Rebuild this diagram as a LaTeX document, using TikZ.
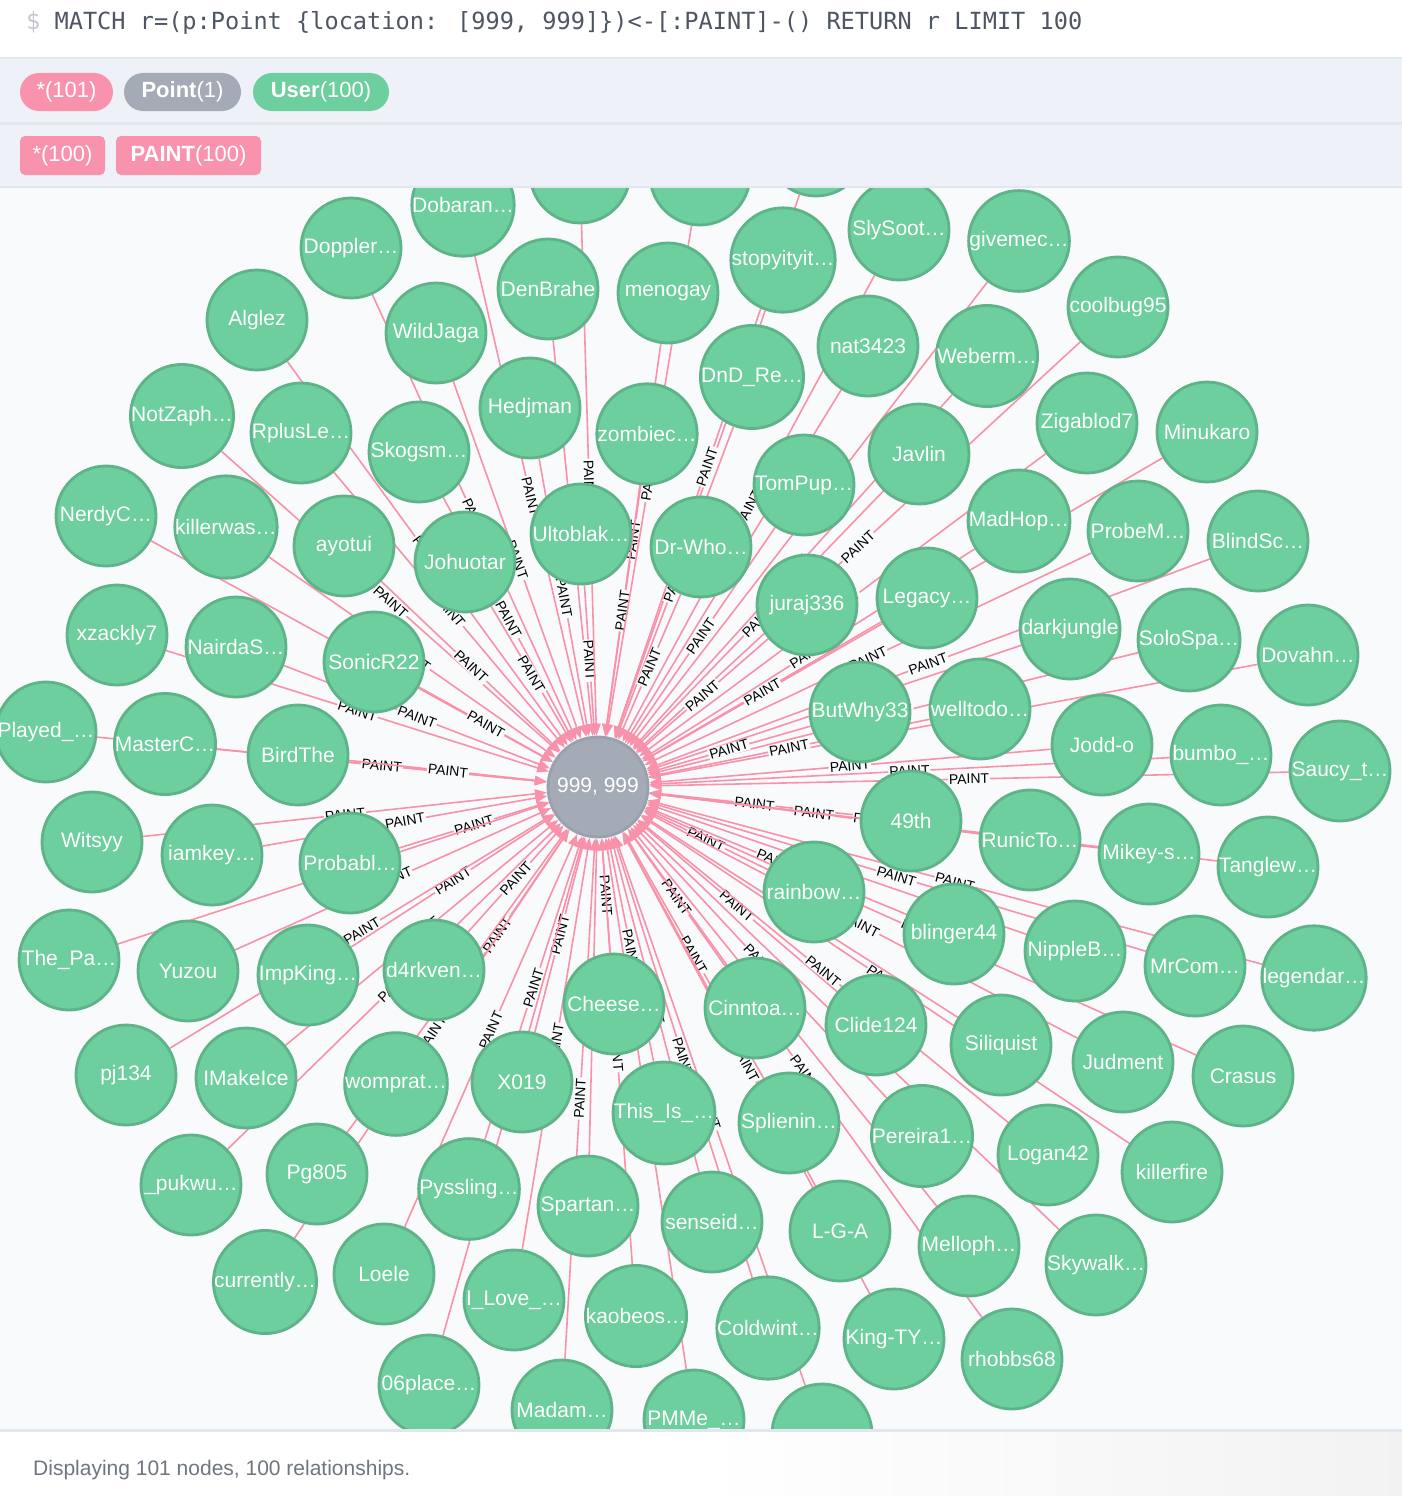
\documentclass[tikz,border=0pt]{standalone}
\usepackage{fontspec}
\newfontfamily\uifont{Liberation Sans}
\newfontfamily\codefont{DejaVu Sans Mono}
\usetikzlibrary{arrows.meta}
\definecolor{usergreen}{HTML}{6DCE9E}
\definecolor{usergreenline}{HTML}{5EB388}
\definecolor{pointgray}{HTML}{A5ABB6}
\definecolor{pointgrayline}{HTML}{9AA1AC}
\definecolor{relpink}{HTML}{F892AA}
\definecolor{pillpink}{HTML}{F993AD}
\definecolor{graphbg}{HTML}{F9FAFC}
\definecolor{barbg}{HTML}{EEF1F8}
\definecolor{barline}{HTML}{E2E6EE}
\definecolor{codegray}{HTML}{4F5663}
\definecolor{dollargray}{HTML}{C3C7CE}
\definecolor{footgray}{HTML}{6F7680}
\pgfdeclarelayer{canvas}
\pgfdeclarelayer{edges}
\pgfdeclarelayer{front}
\pgfsetlayers{canvas,edges,main,front}
\begin{document}
\begin{tikzpicture}[x=1pt, y=-1pt,
  user/.style={circle, draw=usergreenline, fill=usergreen, line width=2.8pt, minimum size=100pt, inner sep=0pt, text=white, font=\uifont\fontsize{21}{24}\selectfont},
  point/.style={circle, draw=pointgrayline, fill=pointgray, line width=2.8pt, minimum size=100pt, inner sep=0pt, text=white, font=\uifont\fontsize{21}{24}\selectfont},
  rel/.style={draw=relpink, line width=1.6pt, -{Triangle[length=12pt,width=9pt]}},
  lbl/.style={midway, sloped, fill=graphbg, inner sep=1pt, text=black, font=\uifont\fontsize{14}{16}\selectfont},
  pill/.style={rounded corners=19pt, minimum height=38pt, inner xsep=0pt, text=white, font=\uifont\fontsize{22}{26}\selectfont},
  tag/.style={pill, rounded corners=5pt, minimum height=39pt}]
\useasboundingbox (0,0) rectangle (1402,1496);
\begin{pgfonlayer}{canvas}
\fill[graphbg] (0,187) rectangle (1402,1430);
\end{pgfonlayer}
% the point
\node[point] (p) at (598,787){999, 999};
% users
\node[user] (u0) at (463,205){Dobaran…};
\node[user] (u1) at (351,248){Doppler…};
\node[user] (u2) at (548,289){DenBrahe};
\node[user] (u3) at (668,293){menogay};
\node[user] (u4) at (783,260){stopyityit…};
\node[user] (u5) at (899,230){SlySoot…};
\node[user] (u6) at (1019,241){givemec…};
\node[user] (u7) at (1118,307){coolbug95};
\node[user] (u8) at (257,320){Alglez};
\node[user] (u9) at (436,333){WildJaga};
\node[user] (u10) at (868,346){nat3423};
\node[user] (u11) at (987,356){Weberm…};
\node[user] (u12) at (752,377){DnD\_Re…};
\node[user] (u13) at (530,408){Hedjman};
\node[user] (u14) at (647,434){zombiec…};
\node[user] (u15) at (182,416){NotZaph…};
\node[user] (u16) at (301,433){RplusLe…};
\node[user] (u17) at (419,452){Skogsm…};
\node[user] (u18) at (919,454){Javlin};
\node[user] (u19) at (1087,423){Zigablod7};
\node[user] (u20) at (1207,432){Minukaro};
\node[user] (u21) at (804,485){TomPup…};
\node[user] (u22) at (106,516){NerdyC…};
\node[user] (u23) at (226,527){killerwas…};
\node[user] (u24) at (344,546){ayotui};
\node[user] (u25) at (465,562){Johuotar};
\node[user] (u26) at (581,534){Ultoblak…};
\node[user] (u27) at (701,547){Dr-Who…};
\node[user] (u28) at (1019,521){MadHop…};
\node[user] (u29) at (1138,531){ProbeM…};
\node[user] (u30) at (1258,541){BlindSc…};
\node[user] (u31) at (807,605){juraj336};
\node[user] (u32) at (927,598){Legacy…};
\node[user] (u33) at (117,635){xzackly7};
\node[user] (u34) at (236,647){NairdaS…};
\node[user] (u35) at (374,662){SonicR22};
\node[user] (u36) at (1070,629){darkjungle};
\node[user] (u37) at (1189,640){SoloSpa…};
\node[user] (u38) at (1308,655){Dovahn…};
\node[user] (u39) at (46,732){Played\_…};
\node[user] (u40) at (165,744){MasterC…};
\node[user] (u41) at (298,755){BirdThe};
\node[user] (u42) at (860,712){ButWhy33};
\node[user] (u43) at (980,709){welltodo…};
\node[user] (u44) at (1102,745){Jodd-o};
\node[user] (u45) at (1221,755){bumbo\_…};
\node[user] (u46) at (1340,771){Saucy\_t…};
\node[user] (u47) at (92,842){Witsyy};
\node[user] (u48) at (212,855){iamkey…};
\node[user] (u49) at (350,863){Probabl…};
\node[user] (u50) at (911,821){49th};
\node[user] (u51) at (1030,840){RunicTo…};
\node[user] (u52) at (1149,854){Mikey-s…};
\node[user] (u53) at (1268,867){Tanglew…};
\node[user] (u54) at (814,892){rainbow…};
\node[user] (u55) at (954,934){blinger44};
\node[user] (u56) at (1075,951){NippleB…};
\node[user] (u57) at (1195,966){MrCom…};
\node[user] (u58) at (1314,978){legendar…};
\node[user] (u59) at (69,960){The\_Pa…};
\node[user] (u60) at (188,971){Yuzou};
\node[user] (u61) at (308,975){ImpKing…};
\node[user] (u62) at (434,970){d4rkven…};
\node[user] (u63) at (614,1004){Cheese…};
\node[user] (u64) at (755,1008){Cinntoa…};
\node[user] (u65) at (876,1025){Clide124};
\node[user] (u66) at (1001,1045){Siliquist};
\node[user] (u67) at (1123,1062){Judment};
\node[user] (u68) at (1243,1076){Crasus};
\node[user] (u69) at (126,1075){pj134};
\node[user] (u70) at (246,1078){IMakeIce};
\node[user] (u71) at (396,1084){womprat…};
\node[user] (u72) at (522,1082){X019};
\node[user] (u73) at (664,1113){This\_Is\_…};
\node[user] (u74) at (789,1123){Splienin…};
\node[user] (u75) at (922,1136){Pereira1…};
\node[user] (u76) at (1048,1155){Logan42};
\node[user] (u77) at (1172,1172){killerfire};
\node[user] (u78) at (191,1185){\_pukwu…};
\node[user] (u79) at (317,1174){Pg805};
\node[user] (u80) at (469,1189){Pyssling…};
\node[user] (u81) at (588,1206){Spartan…};
\node[user] (u82) at (712,1222){senseid…};
\node[user] (u83) at (840,1231){L-G-A};
\node[user] (u84) at (969,1246){Melloph…};
\node[user] (u85) at (1096,1265){Skywalk…};
\node[user] (u86) at (265,1282){currently…};
\node[user] (u87) at (384,1274){Loele};
\node[user] (u88) at (514,1300){I\_Love\_…};
\node[user] (u89) at (636,1316){kaobeos…};
\node[user] (u90) at (768,1328){Coldwint…};
\node[user] (u91) at (894,1339){King-TY…};
\node[user] (u92) at (1012,1359){rhobbs68};
\node[user] (u93) at (429,1385){06place…};
\node[user] (u94) at (562,1410){Madam…};
\node[user] (u95) at (694,1420){PMMe\_…};
\node[user] (u96) at (822,1434){};
\node[user] (u97) at (580,173){};
\node[user] (u98) at (700,175){};
\node[user] (u99) at (816,146){};
% relationships
\begin{pgfonlayer}{edges}
\draw[rel](u0) -- node[lbl]{PAINT} (p);
\draw[rel](u1) -- node[lbl]{PAINT} (p);
\draw[rel](u2) -- node[lbl]{PAINT} (p);
\draw[rel](u3) -- node[lbl]{PAINT} (p);
\draw[rel](u4) -- node[lbl]{PAINT} (p);
\draw[rel](u5) -- node[lbl]{PAINT} (p);
\draw[rel](u6) -- node[lbl]{PAINT} (p);
\draw[rel](u7) -- node[lbl]{PAINT} (p);
\draw[rel](u8) -- node[lbl]{PAINT} (p);
\draw[rel](u9) -- node[lbl]{PAINT} (p);
\draw[rel](u10) -- node[lbl]{PAINT} (p);
\draw[rel](u11) -- node[lbl]{PAINT} (p);
\draw[rel](u12) -- node[lbl]{PAINT} (p);
\draw[rel](u13) -- node[lbl]{PAINT} (p);
\draw[rel](u14) -- node[lbl]{PAINT} (p);
\draw[rel](u15) -- node[lbl]{PAINT} (p);
\draw[rel](u16) -- node[lbl]{PAINT} (p);
\draw[rel](u17) -- node[lbl]{PAINT} (p);
\draw[rel](u18) -- node[lbl]{PAINT} (p);
\draw[rel](u19) -- node[lbl]{PAINT} (p);
\draw[rel](u20) -- node[lbl]{PAINT} (p);
\draw[rel](u21) -- node[lbl]{PAINT} (p);
\draw[rel](u22) -- node[lbl]{PAINT} (p);
\draw[rel](u23) -- node[lbl]{PAINT} (p);
\draw[rel](u24) -- node[lbl]{PAINT} (p);
\draw[rel](u25) -- node[lbl]{PAINT} (p);
\draw[rel](u26) -- node[lbl]{PAINT} (p);
\draw[rel](u27) -- node[lbl]{PAINT} (p);
\draw[rel](u28) -- node[lbl]{PAINT} (p);
\draw[rel](u29) -- node[lbl]{PAINT} (p);
\draw[rel](u30) -- node[lbl]{PAINT} (p);
\draw[rel](u31) -- node[lbl]{PAINT} (p);
\draw[rel](u32) -- node[lbl]{PAINT} (p);
\draw[rel](u33) -- node[lbl]{PAINT} (p);
\draw[rel](u34) -- node[lbl]{PAINT} (p);
\draw[rel](u35) -- node[lbl]{PAINT} (p);
\draw[rel](u36) -- node[lbl]{PAINT} (p);
\draw[rel](u37) -- node[lbl]{PAINT} (p);
\draw[rel](u38) -- node[lbl]{PAINT} (p);
\draw[rel](u39) -- node[lbl]{PAINT} (p);
\draw[rel](u40) -- node[lbl]{PAINT} (p);
\draw[rel](u41) -- node[lbl]{PAINT} (p);
\draw[rel](u42) -- node[lbl]{PAINT} (p);
\draw[rel](u43) -- node[lbl]{PAINT} (p);
\draw[rel](u44) -- node[lbl]{PAINT} (p);
\draw[rel](u45) -- node[lbl]{PAINT} (p);
\draw[rel](u46) -- node[lbl]{PAINT} (p);
\draw[rel](u47) -- node[lbl]{PAINT} (p);
\draw[rel](u48) -- node[lbl]{PAINT} (p);
\draw[rel](u49) -- node[lbl]{PAINT} (p);
\draw[rel](u50) -- node[lbl]{PAINT} (p);
\draw[rel](u51) -- node[lbl]{PAINT} (p);
\draw[rel](u52) -- node[lbl]{PAINT} (p);
\draw[rel](u53) -- node[lbl]{PAINT} (p);
\draw[rel](u54) -- node[lbl]{PAINT} (p);
\draw[rel](u55) -- node[lbl]{PAINT} (p);
\draw[rel](u56) -- node[lbl]{PAINT} (p);
\draw[rel](u57) -- node[lbl]{PAINT} (p);
\draw[rel](u58) -- node[lbl]{PAINT} (p);
\draw[rel](u59) -- node[lbl]{PAINT} (p);
\draw[rel](u60) -- node[lbl]{PAINT} (p);
\draw[rel](u61) -- node[lbl]{PAINT} (p);
\draw[rel](u62) -- node[lbl]{PAINT} (p);
\draw[rel](u63) -- node[lbl]{PAINT} (p);
\draw[rel](u64) -- node[lbl]{PAINT} (p);
\draw[rel](u65) -- node[lbl]{PAINT} (p);
\draw[rel](u66) -- node[lbl]{PAINT} (p);
\draw[rel](u67) -- node[lbl]{PAINT} (p);
\draw[rel](u68) -- node[lbl]{PAINT} (p);
\draw[rel](u69) -- node[lbl]{PAINT} (p);
\draw[rel](u70) -- node[lbl]{PAINT} (p);
\draw[rel](u71) -- node[lbl]{PAINT} (p);
\draw[rel](u72) -- node[lbl]{PAINT} (p);
\draw[rel](u73) -- node[lbl]{PAINT} (p);
\draw[rel](u74) -- node[lbl]{PAINT} (p);
\draw[rel](u75) -- node[lbl]{PAINT} (p);
\draw[rel](u76) -- node[lbl]{PAINT} (p);
\draw[rel](u77) -- node[lbl]{PAINT} (p);
\draw[rel](u78) -- node[lbl]{PAINT} (p);
\draw[rel](u79) -- node[lbl]{PAINT} (p);
\draw[rel](u80) -- node[lbl]{PAINT} (p);
\draw[rel](u81) -- node[lbl]{PAINT} (p);
\draw[rel](u82) -- node[lbl]{PAINT} (p);
\draw[rel](u83) -- node[lbl]{PAINT} (p);
\draw[rel](u84) -- node[lbl]{PAINT} (p);
\draw[rel](u85) -- node[lbl]{PAINT} (p);
\draw[rel](u86) -- node[lbl]{PAINT} (p);
\draw[rel](u87) -- node[lbl]{PAINT} (p);
\draw[rel](u88) -- node[lbl]{PAINT} (p);
\draw[rel](u89) -- node[lbl]{PAINT} (p);
\draw[rel](u90) -- node[lbl]{PAINT} (p);
\draw[rel](u91) -- node[lbl]{PAINT} (p);
\draw[rel](u92) -- node[lbl]{PAINT} (p);
\draw[rel](u93) -- node[lbl]{PAINT} (p);
\draw[rel](u94) -- node[lbl]{PAINT} (p);
\draw[rel](u95) -- node[lbl]{PAINT} (p);
\draw[rel](u96) -- node[lbl]{PAINT} (p);
\draw[rel](u97) -- node[lbl]{PAINT} (p);
\draw[rel](u98) -- node[lbl]{PAINT} (p);
\draw[rel](u99) -- node[lbl]{PAINT} (p);
\end{pgfonlayer}
% header and footer
\begin{pgfonlayer}{front}
\fill[white] (0,0) rectangle (1402,58);
\fill[barbg] (0,58) rectangle (1402,187);
\fill[barline] (0,57) rectangle (1402,59);
\fill[barline] (0,122) rectangle (1402,125);
\fill[barline] (0,186) rectangle (1402,188);
\node[anchor=west, inner sep=0pt, text=codegray, font=\codefont\fontsize{23.6}{28}\selectfont] (query) at (26,23){\textcolor{dollargray}{\$} MATCH r=(p:Point \{location: [999, 999]\})<-[:PAINT]-() RETURN r LIMIT 100};
\node[pill, fill=pillpink, minimum width=93pt] (allnodes) at (66.5,92){*(101)};
\node[pill, fill=pointgray, minimum width=117pt] (pointtag) at (182.5,92){\textbf{Point}(1)};
\node[pill, fill=usergreen, minimum width=136pt] (usertag) at (321,92){\textbf{User}(100)};
\node[tag, fill=pillpink, minimum width=85pt] (allrels) at (62.5,155.5){*(100)};
\node[tag, fill=pillpink, minimum width=145pt] (painttag) at (188.5,155.5){\textbf{PAINT}(100)};
\fill[white] (0,1430) rectangle (1402,1496);
\shade[left color=white, right color=black!5] (700,1432) rectangle (1402,1496);
\fill[barline] (0,1429) rectangle (1402,1432);
\node[anchor=west, inner sep=0pt, text=footgray, font=\uifont\fontsize{21}{25}\selectfont] (status) at (33,1470){Displaying 101 nodes, 100 relationships.};
\end{pgfonlayer}
\end{tikzpicture}
\end{document}
